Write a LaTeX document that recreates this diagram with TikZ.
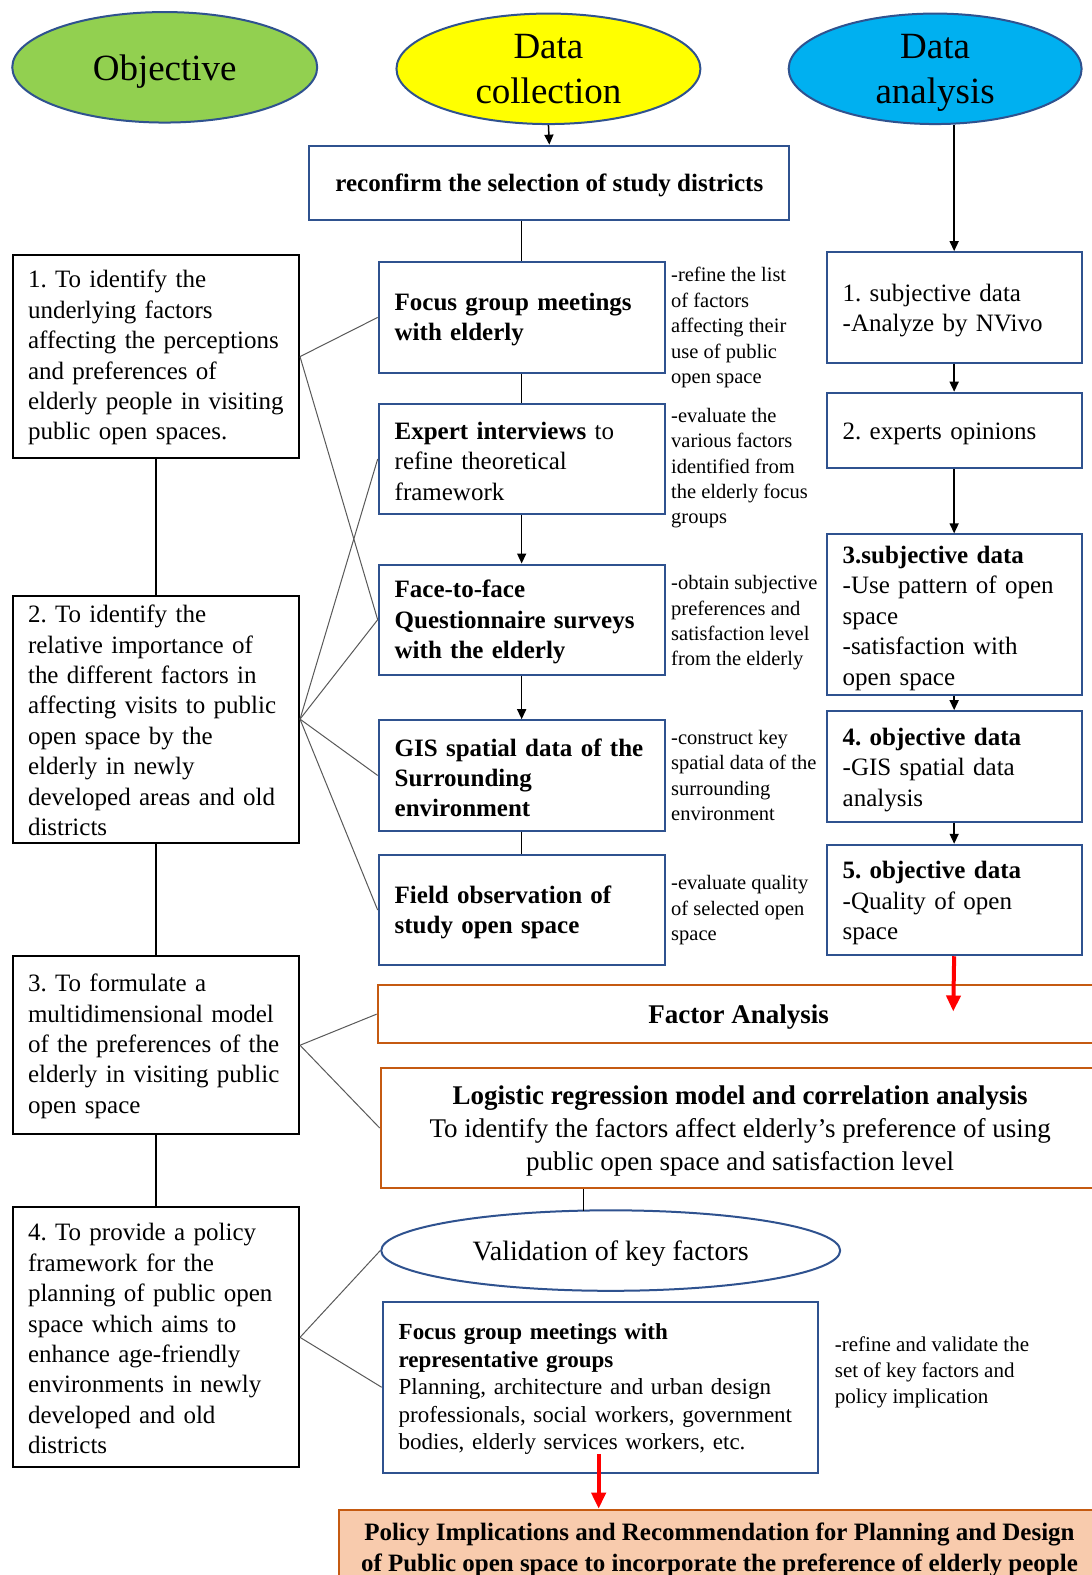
\documentclass[tikz,border=0pt]{standalone}
\usepackage{fontspec}
\setmainfont{Liberation Serif}
\usetikzlibrary{arrows.meta,shapes.geometric}
\frenchspacing

\definecolor{boxblue}{HTML}{2F528F}
\definecolor{rust}{HTML}{C55A11}
\definecolor{leaf}{HTML}{92D050}
\definecolor{lemon}{HTML}{FFFF00}
\definecolor{sky}{HTML}{00B0F0}
\definecolor{peach}{HTML}{F8CBAD}
\definecolor{linkgray}{HTML}{595959}

\tikzset{
  head/.style={draw=boxblue, line width=2pt, ellipse, inner sep=0pt, align=center,
               text depth=0pt, font=\fontsize{37}{45}\selectfont},
  aimbox/.style={draw=black, line width=2pt, rectangle, anchor=north west,
                 inner xsep=15pt, inner ysep=0pt, align=left, text width=256pt,
                 minimum width=286pt, text height=20pt, font=\fontsize{25}{30.4}\selectfont},
  stepbox/.style={draw=boxblue, line width=2pt, rectangle, anchor=north west,
                  inner xsep=16pt, inner ysep=0pt, align=left, text width=254pt,
                  minimum width=286pt, minimum height=110.5pt, text height=22pt,
                  font=\fontsize{25}{30.2}\selectfont},
  anabox/.style={draw=boxblue, line width=2pt, rectangle, anchor=north west,
                 inner xsep=16pt, inner ysep=0pt, align=left, text width=223pt,
                 minimum width=255pt, text height=24pt, font=\fontsize{25}{30.5}\selectfont},
  sidenote/.style={anchor=west, inner sep=0pt, align=left, text depth=0pt,
                   font=\fontsize{20.5}{25.4}\selectfont},
  wide/.style={draw=rust, line width=2pt, rectangle, anchor=north west,
               inner sep=0pt, align=center},
  arr/.style={draw=black, line width=1.5pt, -{Triangle[length=10pt,width=9pt]}},
  plain/.style={draw=black, line width=1.5pt},
  link/.style={draw=linkgray, line width=1pt},
  redarr/.style={draw=red, line width=4pt, -{Triangle[length=16pt,width=14pt]}},
}

\begin{document}
\begin{tikzpicture}[x=1.0046pt, y=-1.0046pt]
\clip (0,0) rectangle (1087,1568);
\fill[white] (0,0) rectangle (1087,1568);

% column headings
\node[head, fill=leaf, minimum width=305pt, minimum height=110.5pt] (obj) at (164,67) {Objective};
\node[head, fill=lemon, minimum width=304pt, minimum height=110.5pt] (dc) at (546,68.5) {Data\\collection};
\node[head, fill=sky, minimum width=293pt, minimum height=110.5pt] (da) at (931,68.5) {Data\\analysis};

% objectives
\node[aimbox, minimum height=203pt] (aim1) at (12,253)
  {1. To identify the\\underlying factors\\affecting the perceptions\\and preferences of\\elderly people in visiting\\public open spaces.};
\node[aimbox, minimum height=247pt] (aim2) at (12,592)
  {2. To identify the\\relative importance of\\the different factors in\\affecting visits to public\\open space by the\\elderly in newly\\developed areas and old\\districts};
\node[aimbox, minimum height=178pt] (aim3) at (12,951)
  {3. To formulate a\\multidimensional model\\of the preferences of the\\elderly in visiting public\\open space};
\node[aimbox, minimum height=260pt] (aim4) at (12,1201)
  {4. To provide a policy\\framework for the\\planning of public open\\space which aims to\\enhance age-friendly\\environments in newly\\developed and old\\districts};

% data collection
\node[draw=boxblue, line width=2pt, rectangle, anchor=north west, inner sep=0pt, text depth=0pt,
      minimum width=480pt, minimum height=74.5pt, font=\bfseries\fontsize{25}{30}\selectfont]
  (reconf) at (307,144) {reconfirm the selection of study districts};

\node[stepbox] (focus) at (376,260) {\textbf{Focus group meetings}\\\textbf{with elderly}};
\node[stepbox] (expert) at (376,401) {\textbf{Expert interviews} to\\refine theoretical\\framework};
\node[stepbox, font=\bfseries\fontsize{25}{30.2}\selectfont] (face) at (376,561) {Face-to-face\\Questionnaire surveys\\with the elderly};
\node[stepbox, font=\bfseries\fontsize{25}{30.2}\selectfont] (gis) at (376,716) {GIS spatial data of the\\Surrounding\\environment};
\node[stepbox, font=\bfseries\fontsize{25}{30.2}\selectfont] (field) at (376,850) {Field observation of\\study open space};

\node[sidenote] (n1) at (668,324) {-refine the list\\of factors\\affecting their\\use of public\\open space};
\node[sidenote] (n2) at (668,464) {-evaluate the\\various factors\\identified from\\the elderly focus\\groups};
\node[sidenote] (n3) at (668,618) {-obtain subjective\\preferences and\\satisfaction level\\from the elderly};
\node[sidenote] (n4) at (668,772) {-construct key\\spatial data of the\\surrounding\\environment};
\node[sidenote] (n5) at (668,904) {-evaluate quality\\of selected open\\space};

% data analysis
\node[anabox, minimum height=110.5pt] (an1) at (822,250) {1. subjective data\\-Analyze by NVivo};
\node[anabox, minimum height=75.5pt] (an2) at (822,390) {2. experts opinions};
\node[anabox, minimum height=161pt] (an3) at (822,531) {\textbf{3.subjective data}\\-Use pattern of open\\space\\-satisfaction with\\open space};
\node[anabox, minimum height=110.5pt] (an4) at (822,707) {\textbf{4. objective data}\\-GIS spatial data\\analysis};
\node[anabox, minimum height=110.5pt] (an5) at (822,840) {\textbf{5. objective data}\\-Quality of open\\space};

% modelling
\node[wide, minimum width=722pt, minimum height=57.5pt, text depth=0pt, font=\bfseries\fontsize{27}{33}\selectfont]
  (factor) at (375,980) {Factor Analysis};
\node[wide, minimum width=719pt, minimum height=120.5pt, text depth=0pt, font=\fontsize{27}{33}\selectfont]
  (logit) at (378,1062)
  {\textbf{Logistic regression model and correlation analysis}\\To identify the factors affect elderly’s preference of using\\public open space and satisfaction level};

% validation
\node[head, fill=white, minimum width=459pt, minimum height=80.5pt, font=\fontsize{28}{34}\selectfont]
  (valid) at (608,1245) {Validation of key factors};
\node[draw=boxblue, line width=2pt, rectangle, anchor=north west, inner xsep=16pt, inner ysep=0pt,
      align=left, text width=403pt, minimum width=435pt, minimum height=171pt, text height=19.6pt,
      font=\fontsize{23}{27.5}\selectfont]
  (rep) at (380,1295)
  {\textbf{Focus group meetings with}\\\textbf{representative groups}\\Planning, architecture and urban design\\professionals, social workers, government\\bodies, elderly services workers, etc.};
\node[sidenote, font=\fontsize{21}{26}\selectfont] (n6) at (831,1364)
  {-refine and validate the\\set of key factors and\\policy implication};

\node[wide, fill=peach, minimum width=762pt, minimum height=80pt, font=\bfseries\fontsize{25}{31}\selectfont]
  (policy) at (336,1502)
  {Policy Implications and Recommendation for Planning and Design\\of Public open space to incorporate the preference of elderly people};

% free ends
\coordinate (redend) at (949,1007);
\coordinate (validtop) at (581,1205.5);
\coordinate (redstart) at (596,1448);

% data collection chain
\draw[arr] (dc.south) -- (reconf.north);
\draw[plain] (focus.north |- reconf.south) -- (focus.north);
\draw[plain] (focus.south) -- (expert.north);
\draw[arr] (expert.south) -- (face.north);
\draw[arr] (face.south) -- (gis.north);
\draw[plain] (gis.south) -- (field.north);

% data analysis chain
\draw[arr] (an1.north |- da.south) -- (an1.north);
\draw[arr] (an1.south) -- (an2.north);
\draw[arr] (an2.south) -- (an3.north);
\draw[arr] (an3.south) -- (an4.north);
\draw[arr] (an4.south) -- (an5.north);
\draw[redarr] (an5.south) -- (redend);

\draw[plain] (logit.south -| validtop) -- (validtop);
\draw[redarr] (redstart) -- (redstart |- policy.north);

% objective chain
\draw[plain] (aim1.south) -- (aim2.north);
\draw[plain] (aim2.south) -- (aim3.north);
\draw[plain] (aim3.south) -- (aim4.north);

% objective links
\draw[link] (aim1.east) -- (focus.west);
\draw[link] (aim1.east) -- (face.west);
\draw[link] (aim2.east) -- (expert.west);
\draw[link] (aim2.east) -- (face.west);
\draw[link] (aim2.east) -- (gis.west);
\draw[link] (aim2.east) -- (field.west);
\draw[link] (aim3.east) -- (factor.west);
\draw[link] (aim3.east) -- (logit.west);
\draw[link] (aim4.east) -- (valid.west);
\draw[link] (aim4.east) -- (rep.west);
\end{tikzpicture}
\end{document}
